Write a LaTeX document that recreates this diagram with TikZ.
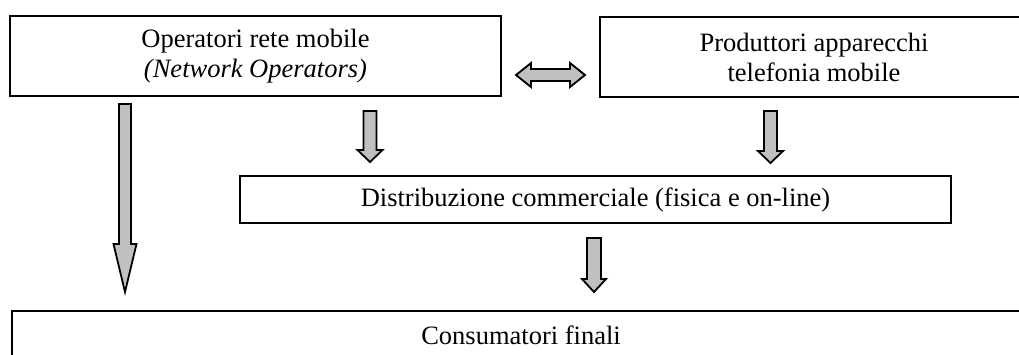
\documentclass[tikz,border=0pt]{standalone}
\usepackage{fontspec}
\setmainfont{Liberation Serif}
\usetikzlibrary{calc}

\definecolor{arrowgray}{HTML}{C0C0C0}

% vertical block arrow: start, tip, half shaft, half head, head length
\newcommand{\vblockarrow}[5]{%
  \draw[blockarrow] let \p1=(#1), \p2=(#2) in
    (\x1-#3,\y1) -- (\x1+#3,\y1) -- (\x1+#3,\y2+#5) -- (\x1+#4,\y2+#5)
    -- (\x1,\y2) -- (\x1-#4,\y2+#5) -- (\x1-#3,\y2+#5) -- cycle;}

% horizontal double block arrow: left tip, right tip, half shaft, half head, head length
\newcommand{\hdoublearrow}[5]{%
  \draw[blockarrow] let \p1=(#1), \p2=(#2) in
    (\x1,\y1) -- (\x1+#5,\y1+#4) -- (\x1+#5,\y1+#3) -- (\x2-#5,\y1+#3)
    -- (\x2-#5,\y1+#4) -- (\x2,\y1) -- (\x2-#5,\y1-#4) -- (\x2-#5,\y1-#3)
    -- (\x1+#5,\y1-#3) -- (\x1+#5,\y1-#4) -- cycle;}

\begin{document}
\begin{tikzpicture}[
    x=0.5pt, y=-0.5pt,
    box/.style={draw, line width=0.9pt, inner sep=0pt, align=center,
                font=\fontsize{13.25pt}{15pt}\selectfont},
    blockarrow/.style={draw, line width=0.9pt, fill=arrowgray}
]
\useasboundingbox (0,0) rectangle (1019,354);

% boxes
\node[box, minimum width=245.5pt, minimum height=40pt] (oper) at (255.5,56)
    {Operatori rete mobile\\\textit{(Network Operators)}};
\node[box, minimum width=214pt, minimum height=40pt] (prod) at (814,57)
    {Produttori apparecchi\\telefonia mobile};
\node[box, minimum width=355.5pt, minimum height=23.5pt] (distr) at (595.5,199.5)
    {Distribuzione commerciale (fisica e on-line)};
\node[box, minimum width=509pt, minimum height=24.5pt] (cons) at (521,335.5)
    {Consumatori finali};

% arrow end points
\coordinate (operL) at (125,104);
\coordinate (consL) at (125,292);
\coordinate (operR) at (370,111);
\coordinate (distrL) at (370,162);
\coordinate (prodB) at (770.5,111);
\coordinate (distrR) at (770.5,163);
\coordinate (distrB) at (594,238);
\coordinate (consT) at (594,292);
\coordinate (linkL) at (516,75);
\coordinate (linkR) at (585,75);

% arrows
\vblockarrow{operL}{consL}{3pt}{5.75pt}{24pt}
\vblockarrow{operR}{distrL}{3.25pt}{6.25pt}{6pt}
\vblockarrow{prodB}{distrR}{3.25pt}{6.25pt}{6pt}
\vblockarrow{distrB}{consT}{3.5pt}{6pt}{6.5pt}
\hdoublearrow{linkL}{linkR}{3pt}{6pt}{7.5pt}

\end{tikzpicture}
\end{document}
